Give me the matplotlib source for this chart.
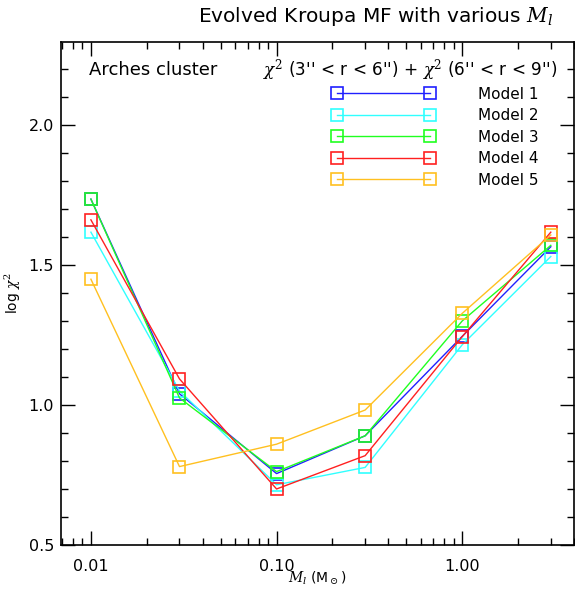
import matplotlib
matplotlib.use('Agg')
import matplotlib.pyplot as plt
from matplotlib.ticker import MultipleLocator, FixedLocator, NullFormatter

mass_limit = [0.01, 0.03, 0.1, 0.3, 1.0, 3.0]

model_1 = [1.735, 1.04, 0.755, 0.89, 1.245, 1.565]
model_2 = [1.617, 1.05, 0.715, 0.777, 1.215, 1.53]
model_3 = [1.735, 1.025, 0.762, 0.89, 1.30, 1.57]
model_4 = [1.661, 1.093, 0.70, 0.819, 1.244, 1.617]
model_5 = [1.449, 0.78, 0.86, 0.982, 1.327, 1.607]

models = [model_1, model_2, model_3, model_4, model_5]
names = ['Model 1', 'Model 2', 'Model 3', 'Model 4', 'Model 5']
colors = ['#2020ff', '#30ffff', '#20ff20', '#ff2020', '#ffc020']

plt.rcParams['font.family'] = 'DejaVu Sans'
plt.rcParams['mathtext.fontset'] = 'dejavuserif'

fig = plt.figure(figsize=(5.75, 5.92), dpi=100)
ax = fig.add_axes([61 / 575, 1 - 545 / 592, 513 / 575, 503 / 592])

for vals, name, c in zip(models, names, colors):
    ax.plot(mass_limit, vals, color=c, lw=1.0, marker='s', ms=8.5,
            mfc='none', mec=c, mew=1.2, label=name)

ax.set_xscale('log')
ax.set_xlim(0.0069, 4.0)
ax.set_ylim(0.5, 2.296)

ax.xaxis.set_major_locator(FixedLocator([0.01, 0.1, 1.0]))
ax.set_xticklabels(['0.01', '0.10', '1.00'])
ax.xaxis.set_minor_formatter(NullFormatter())
ax.yaxis.set_major_locator(MultipleLocator(0.5))
ax.yaxis.set_minor_locator(MultipleLocator(0.1))
ax.tick_params(which='both', direction='in', top=True, right=True,
               labelsize=11.5, width=1.0)
ax.tick_params(axis='x', pad=10)
ax.tick_params(axis='y', pad=5)
ax.tick_params(which='major', length=10)
ax.tick_params(which='minor', length=5)
for s in ax.spines.values():
    s.set_linewidth(1.2)

ax.set_xlabel(r'$M_l$ (M$_\odot$)', fontsize=10)
ax.xaxis.set_label_coords(0.5, -0.048)
ax.set_ylabel(r'log $\chi^2$', fontsize=10)
ax.yaxis.set_label_coords(-0.074, 0.5)

fig.text(376 / 575, 1 - 16 / 592, r'Evolved Kroupa MF with various $M_l$',
         ha='center', va='center', fontsize=14.5)
ax.text(0.055, 0.945, 'Arches cluster',
        transform=ax.transAxes, fontsize=13, va='center')
ax.text(0.969, 0.945,
        r"$\chi^2$ (3'' < r < 6'') + $\chi^2$ (6'' < r < 9'')",
        transform=ax.transAxes, fontsize=12.2, va='center', ha='right')

ax.legend(loc='upper right', bbox_to_anchor=(0.942, 0.923), frameon=False,
          numpoints=2, handlelength=6.7, handletextpad=2.8,
          labelspacing=0.42, fontsize=11, borderaxespad=0)

fig.savefig('out.png', dpi=100)
